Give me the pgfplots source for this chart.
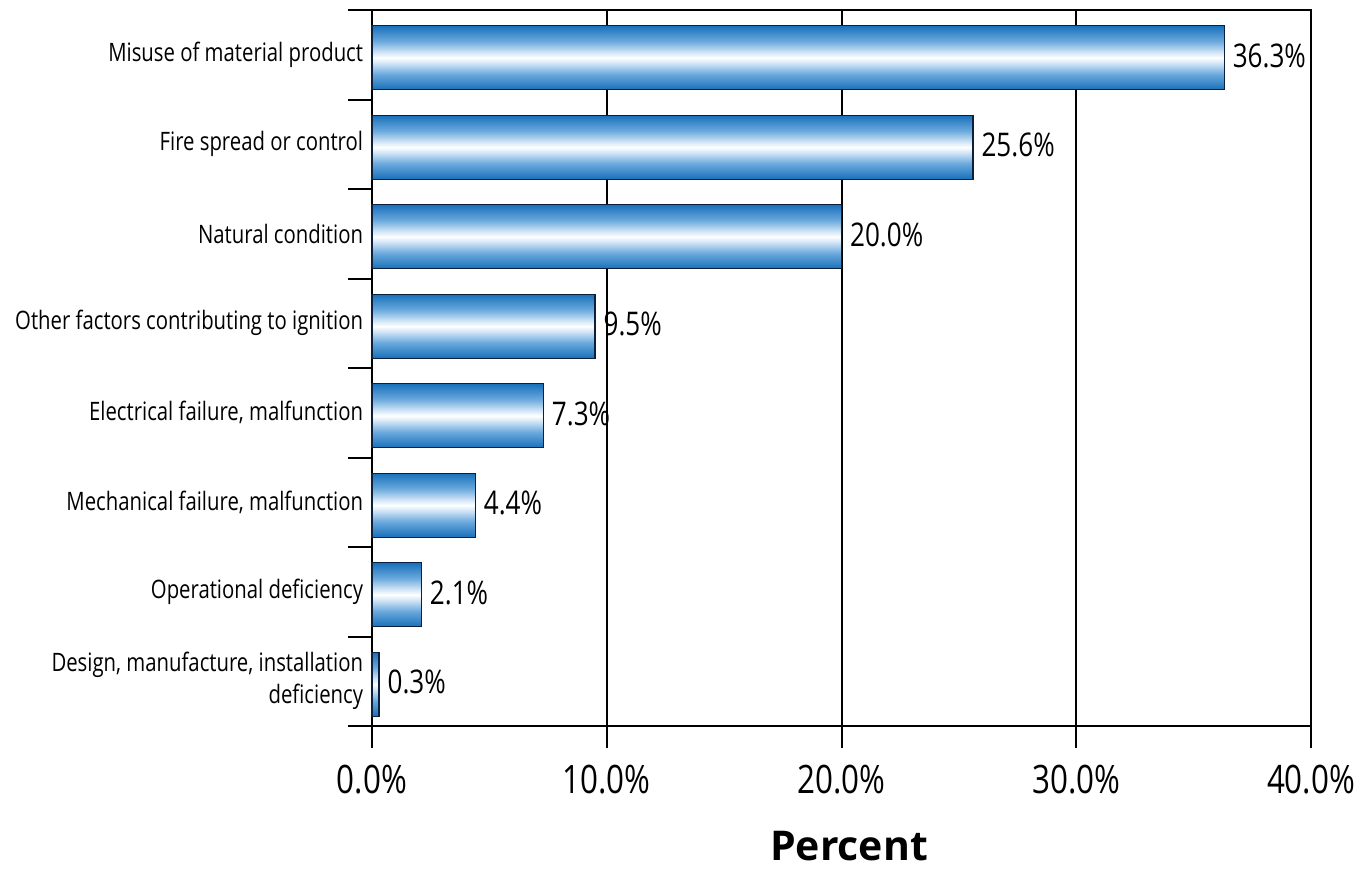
\documentclass[border=0pt]{standalone}
\usepackage{fontspec}
\setmainfont{Open Sans}[FakeStretch=0.8]
\newfontfamily\titlefont{Open Sans}
\usepackage{pgfplots}
\pgfplotsset{compat=1.18}

\definecolor{barblue}{RGB}{24,112,186}
\definecolor{barmid}{RGB}{105,168,220}
\definecolor{barpale}{RGB}{212,231,247}
\definecolor{baredge}{RGB}{12,32,62}

% tube-like shading across the thickness of each bar
\pgfdeclareverticalshading{tube}{100bp}{%
  color(0bp)=(barblue); color(25bp)=(barblue); color(37bp)=(barmid);
  color(46bp)=(barpale); color(50bp)=(white); color(54bp)=(barpale);
  color(63bp)=(barmid); color(75bp)=(barblue); color(100bp)=(barblue)}

\pgfplotsset{
  tubebar/.style={draw=baredge, line width=0.6pt, fill=barblue,
    shade, shading=tube},
}

\begin{document}
\begin{tikzpicture}
\begin{axis}[
  name=main,
  scale only axis,
  width=469.5pt, height=358pt,
  xbar, bar width=32pt, bar shift=-1.5pt,
  xmin=0, xmax=40, ymin=0.5, ymax=8.5,
  clip=false,
  xtick={0,10,20,30,40},
  xticklabels={0.0\%,10.0\%,20.0\%,30.0\%,40.0\%},
  ytick={1,...,8},
  yticklabels={
    {Design, manufacture, installation\\deficiency},
    {Operational deficiency},
    {Mechanical failure, malfunction},
    {Electrical failure, malfunction},
    {Other factors contributing to ignition},
    {Natural condition},
    {Fire spread or control},
    {Misuse of material product}},
  tick style={draw=none},
  xmajorgrids,
  major grid style={black, line width=1pt},
  axis line style={black, line width=1pt},
  xticklabel style={anchor=base, yshift=-33.5pt, inner sep=0pt,
    font=\fontsize{19.6}{22}\selectfont},
  yticklabel style={anchor=east, align=right, inner sep=0pt, xshift=0pt,
    font=\fontsize{12.7}{16}\selectfont},
  xlabel={\titlefont\bfseries Percent},
  xlabel style={at={(axis description cs:0.508,0)}, anchor=base,
    yshift=-67pt, font=\fontsize{20.5}{24}\selectfont},
  point meta=explicit symbolic,
  nodes near coords,
  every node near coord/.append style={anchor=west, inner sep=0pt,
    xshift=4pt, yshift=1pt, text=black, font=\fontsize{16.3}{19}\selectfont},
]
% one plot per bar so that each bar carries its own shading
\addplot[tubebar] coordinates {(0.3,1)  [0.3\%]};
\addplot[tubebar] coordinates {(2.1,2)  [2.1\%]};
\addplot[tubebar] coordinates {(4.4,3)  [4.4\%]};
\addplot[tubebar] coordinates {(7.3,4)  [7.3\%]};
\addplot[tubebar] coordinates {(9.5,5)  [9.5\%]};
\addplot[tubebar] coordinates {(20.0,6) [20.0\%]};
\addplot[tubebar] coordinates {(25.6,7) [25.6\%]};
\addplot[tubebar] coordinates {(36.3,8) [36.3\%]};
% tick marks at the category boundaries and below the grid lines
\pgfplotsinvokeforeach{0.5,1.5,2.5,3.5,4.5,5.5,6.5,7.5,8.5}{
  \draw[black, line width=1pt] (axis cs:0,#1) -- ++(-12pt,0pt);
}
\pgfplotsinvokeforeach{0,10,20,30,40}{
  \draw[black, line width=1pt] (axis cs:#1,0.5) -- ++(0pt,-11pt);
}
\end{axis}
\pgfresetboundingbox
\path[use as bounding box] ([shift={(-186pt,-73pt)}]main.south west)
  rectangle ([shift={(30pt,5pt)}]main.north east);
\end{tikzpicture}
\end{document}
